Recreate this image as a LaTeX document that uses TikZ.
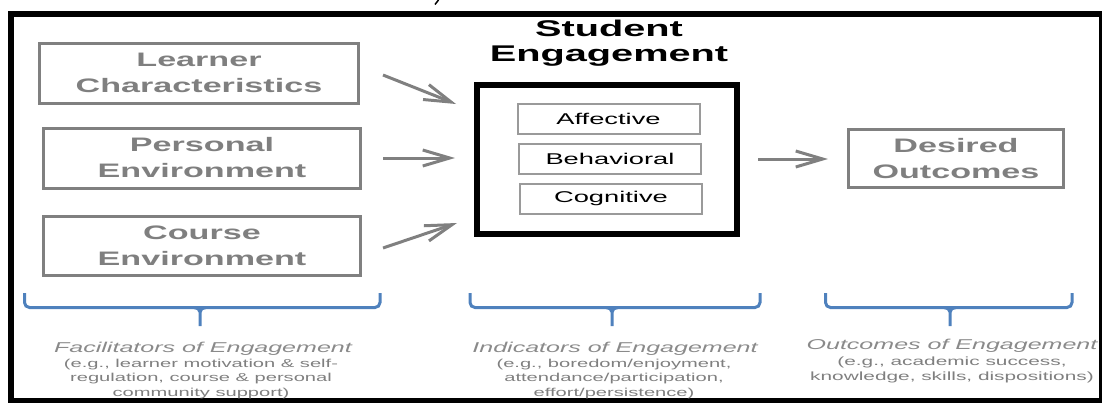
\documentclass[tikz,border=0pt]{standalone}
\usepackage{fontspec}
\setmainfont{Liberation Sans}
% wide sans face used for every label
\newfontfamily\widesans[FakeStretch=1.75]{Liberation Sans}
\usetikzlibrary{arrows.meta}

\definecolor{boxgray}{HTML}{808080}
\definecolor{labelgray}{HTML}{7F7F7F}
\definecolor{innergray}{HTML}{9A9A9A}
\definecolor{notegray}{HTML}{8A8A8A}
\definecolor{bracketblue}{HTML}{4F81BD}

\tikzset{
  factorbox/.style={draw=boxgray, line width=3pt, text=labelgray, align=center,
    inner sep=0pt, font=\widesans\bfseries\fontsize{19.5}{26}\selectfont},
  corebox/.style={draw=black, line width=6pt, inner sep=0pt,
    minimum width=260pt, minimum height=149pt},
  dimbox/.style={draw=innergray, line width=2pt, inner sep=0pt,
    minimum width=182pt, minimum height=30pt, text=black,
    font=\widesans\fontsize{15.6}{18}\selectfont},
  flow/.style={draw=boxgray, line width=3pt,
    -{Straight Barb[length=27pt,width=16pt]}},
  brace/.style={draw=bracketblue, line width=3pt, rounded corners=5pt},
  notehead/.style={anchor=base, inner sep=0pt, text=notegray,
    font=\widesans\itshape\fontsize{14.3}{17}\selectfont},
  notebody/.style={anchor=north, inner sep=0pt, align=center, text=labelgray,
    font=\widesans\fontsize{11.5}{14.3}\selectfont}
}

\begin{document}
\begin{tikzpicture}[x=1pt,y=-1pt]
\useasboundingbox (0,0) rectangle (1102,402);

% outer frame
\draw[line width=6pt] (10.5,13.5) rectangle (1102,401);
\draw[line width=1.5pt] (438.5,0) -- (435,4.5);

% factors on the left
\node[factorbox, minimum width=319pt, minimum height=60pt] (lc) at (199,73)
  {Learner\\Characteristics};
\node[factorbox, minimum width=317pt, minimum height=60pt] (pe) at (202,158)
  {Personal\\Environment};
\node[factorbox, minimum width=317pt, minimum height=59pt] (ce) at (202,245.5)
  {Course\\Environment};

% student engagement
\node[anchor=north, inner sep=0pt, align=center,
  font=\widesans\bfseries\fontsize{22.7}{24.5}\selectfont] (title) at (609,20)
  {Student\\Engagement};
\node[corebox] (se) at (607,159.5) {};
\node[dimbox] (aff) at (608.5,119) {Affective};
\node[dimbox] (beh) at (610,158.5) {Behavioral};
\node[dimbox] (cog) at (611,198.5) {Cognitive};

% outcome
\node[factorbox, minimum width=215pt, minimum height=58pt] (do) at (956,158.5)
  {Desired\\Outcomes};

% arrows
\coordinate (f1) at (383,75);   \coordinate (t1) at (456,104);
\coordinate (f2) at (383,158);  \coordinate (t2) at (455,158);
\coordinate (f3) at (383,248);  \coordinate (t3) at (457,223);
\coordinate (f4) at (758,159);  \coordinate (t4) at (828,159);
\draw[flow] (f1) -- (t1);
\draw[flow] (f2) -- (t2);
\draw[flow] (f3) -- (t3);
\draw[flow] (f4) -- (t4);

% braces
\foreach \l/\m/\r in {24.5/200/380, 470/612/760, 825.5/950/1072}{
  \draw[brace] (\l,293) -- (\l,307.5) -- (\r,307.5) -- (\r,293);
  \draw[bracketblue, line width=3pt]
    (\m-6,307.5) to[out=0,in=90] (\m,312) -- (\m,326);
  \draw[bracketblue, line width=3pt]
    (\m+6,307.5) to[out=180,in=90] (\m,312);
}

% notes under the braces
\node[notehead] (fh) at (203,352) {Facilitators of Engagement};
\node[notebody] (fb) at (201,359)
  {(e.g., learner motivation \& self-\\regulation, course \& personal\\community support)};
\node[notehead] (ih) at (615,352) {Indicators of Engagement};
\node[notebody] (ib) at (614,359)
  {(e.g., boredom/enjoyment,\\attendance/participation,\\effort/persistence)};
\node[notehead] (oh) at (952,349) {Outcomes of Engagement};
\node[notebody, font=\widesans\fontsize{11.9}{14.3}\selectfont] (ob) at (952,357)
  {(e.g., academic success,\\knowledge, skills, dispositions)};
\end{tikzpicture}
\end{document}
